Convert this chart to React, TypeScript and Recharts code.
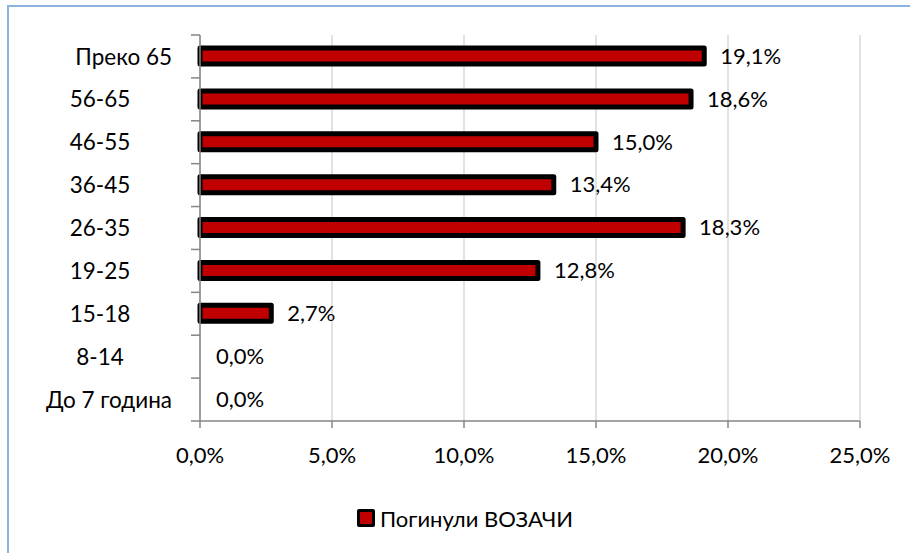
import React from "react";
import {
  BarChart,
  Bar,
  Cell,
  XAxis,
  YAxis,
  CartesianGrid,
  Legend,
  LabelList,
} from "recharts";

const categories = [
  "Преко 65",
  "56-65",
  "46-55",
  "36-45",
  "26-35",
  "19-25",
  "15-18",
  "8-14",
  "До 7 година",
];
const driversKilled = [19.1, 18.6, 15.0, 13.4, 18.3, 12.8, 2.7, 0.0, 0.0];
const xTicks = [0, 5, 10, 15, 20, 25];
const seriesName = "Погинули ВОЗАЧИ";

const data = categories.map((c, i) => ({ group: c, value: driversKilled[i] }));

const W = 910;
const H = 553;
const PLOT_TOP = 35;
const PLOT_BOTTOM = 421;
const BAND = (PLOT_BOTTOM - PLOT_TOP) / categories.length;
const FONT = "Lato, 'Open Sans', sans-serif";
const AXIS = "#868686";

const pct = (v: number) => `${v.toFixed(1).replace(".", ",")}%`;

function CategoryTick(props: any) {
  const { x, y, payload, index } = props;
  const label: string = payload.value;
  const long = label.length > 6;
  return (
    <g>
      <line x1={x - 9} x2={x} y1={y - BAND / 2} y2={y - BAND / 2} stroke={AXIS} strokeWidth={1.5} />
      {index === categories.length - 1 && (
        <line x1={x - 9} x2={x} y1={y + BAND / 2} y2={y + BAND / 2} stroke={AXIS} strokeWidth={1.5} />
      )}
      <text
        x={long ? x - 28 : x - 100}
        y={y}
        dy="0.36em"
        textAnchor={long ? "end" : "middle"}
        fontSize={22.5}
        fontFamily={FONT}
        fill="#000"
      >
        {label}
      </text>
    </g>
  );
}

function LegendBox() {
  return (
    <div
      style={{
        display: "flex",
        alignItems: "center",
        justifyContent: "center",
        height: 24,
        fontFamily: FONT,
        fontSize: 22,
        color: "#000",
        paddingLeft: 20,
      }}
    >
      <span
        style={{
          width: 12,
          height: 12,
          background: "#c00000",
          border: "3px solid #000",
          borderRadius: 2,
          marginRight: 5,
        }}
      />
      {seriesName}
    </div>
  );
}

export default function App() {
  return (
    <div
      style={{
        position: "absolute",
        left: 0,
        top: 0,
        width: W,
        height: H,
        background: "#fff",
        overflow: "hidden",
      }}
    >
      <div
        style={{
          position: "absolute",
          left: 7,
          top: 5,
          width: W,
          height: H,
          borderTop: "2px solid #8db3e2",
          borderLeft: "2px solid #8db3e2",
        }}
      />
      <BarChart
        width={W}
        height={H}
        data={data}
        layout="vertical"
        margin={{ top: PLOT_TOP, right: 50, bottom: 68, left: 0 }}
        barSize={16}
      >
        <CartesianGrid horizontal={false} stroke="#d9d9d9" strokeWidth={1.5} />
        <XAxis
          type="number"
          domain={[0, 25]}
          ticks={xTicks}
          tickFormatter={pct}
          height={40}
          stroke={AXIS}
          strokeWidth={1.5}
          tickSize={7}
          tickMargin={19}
          tick={{ fontSize: 22, fontFamily: FONT, fill: "#000" }}
        />
        <YAxis
          type="category"
          dataKey="group"
          width={200}
          stroke={AXIS}
          strokeWidth={1.5}
          tickLine={false}
          tickSize={0}
          tickMargin={0}
          tick={<CategoryTick />}
          interval={0}
        />
        <Legend
          content={<LegendBox />}
          wrapperStyle={{ position: "absolute", top: 506, left: 0, width: W }}
        />
        <Bar
          dataKey="value"
          name={seriesName}
          fill="#c00000"
          stroke="#000"
          strokeWidth={5}
          strokeLinejoin="round"
          minPointSize={0.01}
          isAnimationActive={false}
        >
          {data.map((d, i) => (
            <Cell
              key={i}
              fill={d.value === 0 ? "none" : "#c00000"}
              stroke={d.value === 0 ? "none" : "#000"}
            />
          ))}
          <LabelList
            dataKey="value"
            position="right"
            offset={16}
            formatter={(v: any) => pct(Number(v))}
            style={{ fontSize: 22, fontFamily: FONT, fill: "#000" }}
          />
        </Bar>
      </BarChart>
    </div>
  );
}
